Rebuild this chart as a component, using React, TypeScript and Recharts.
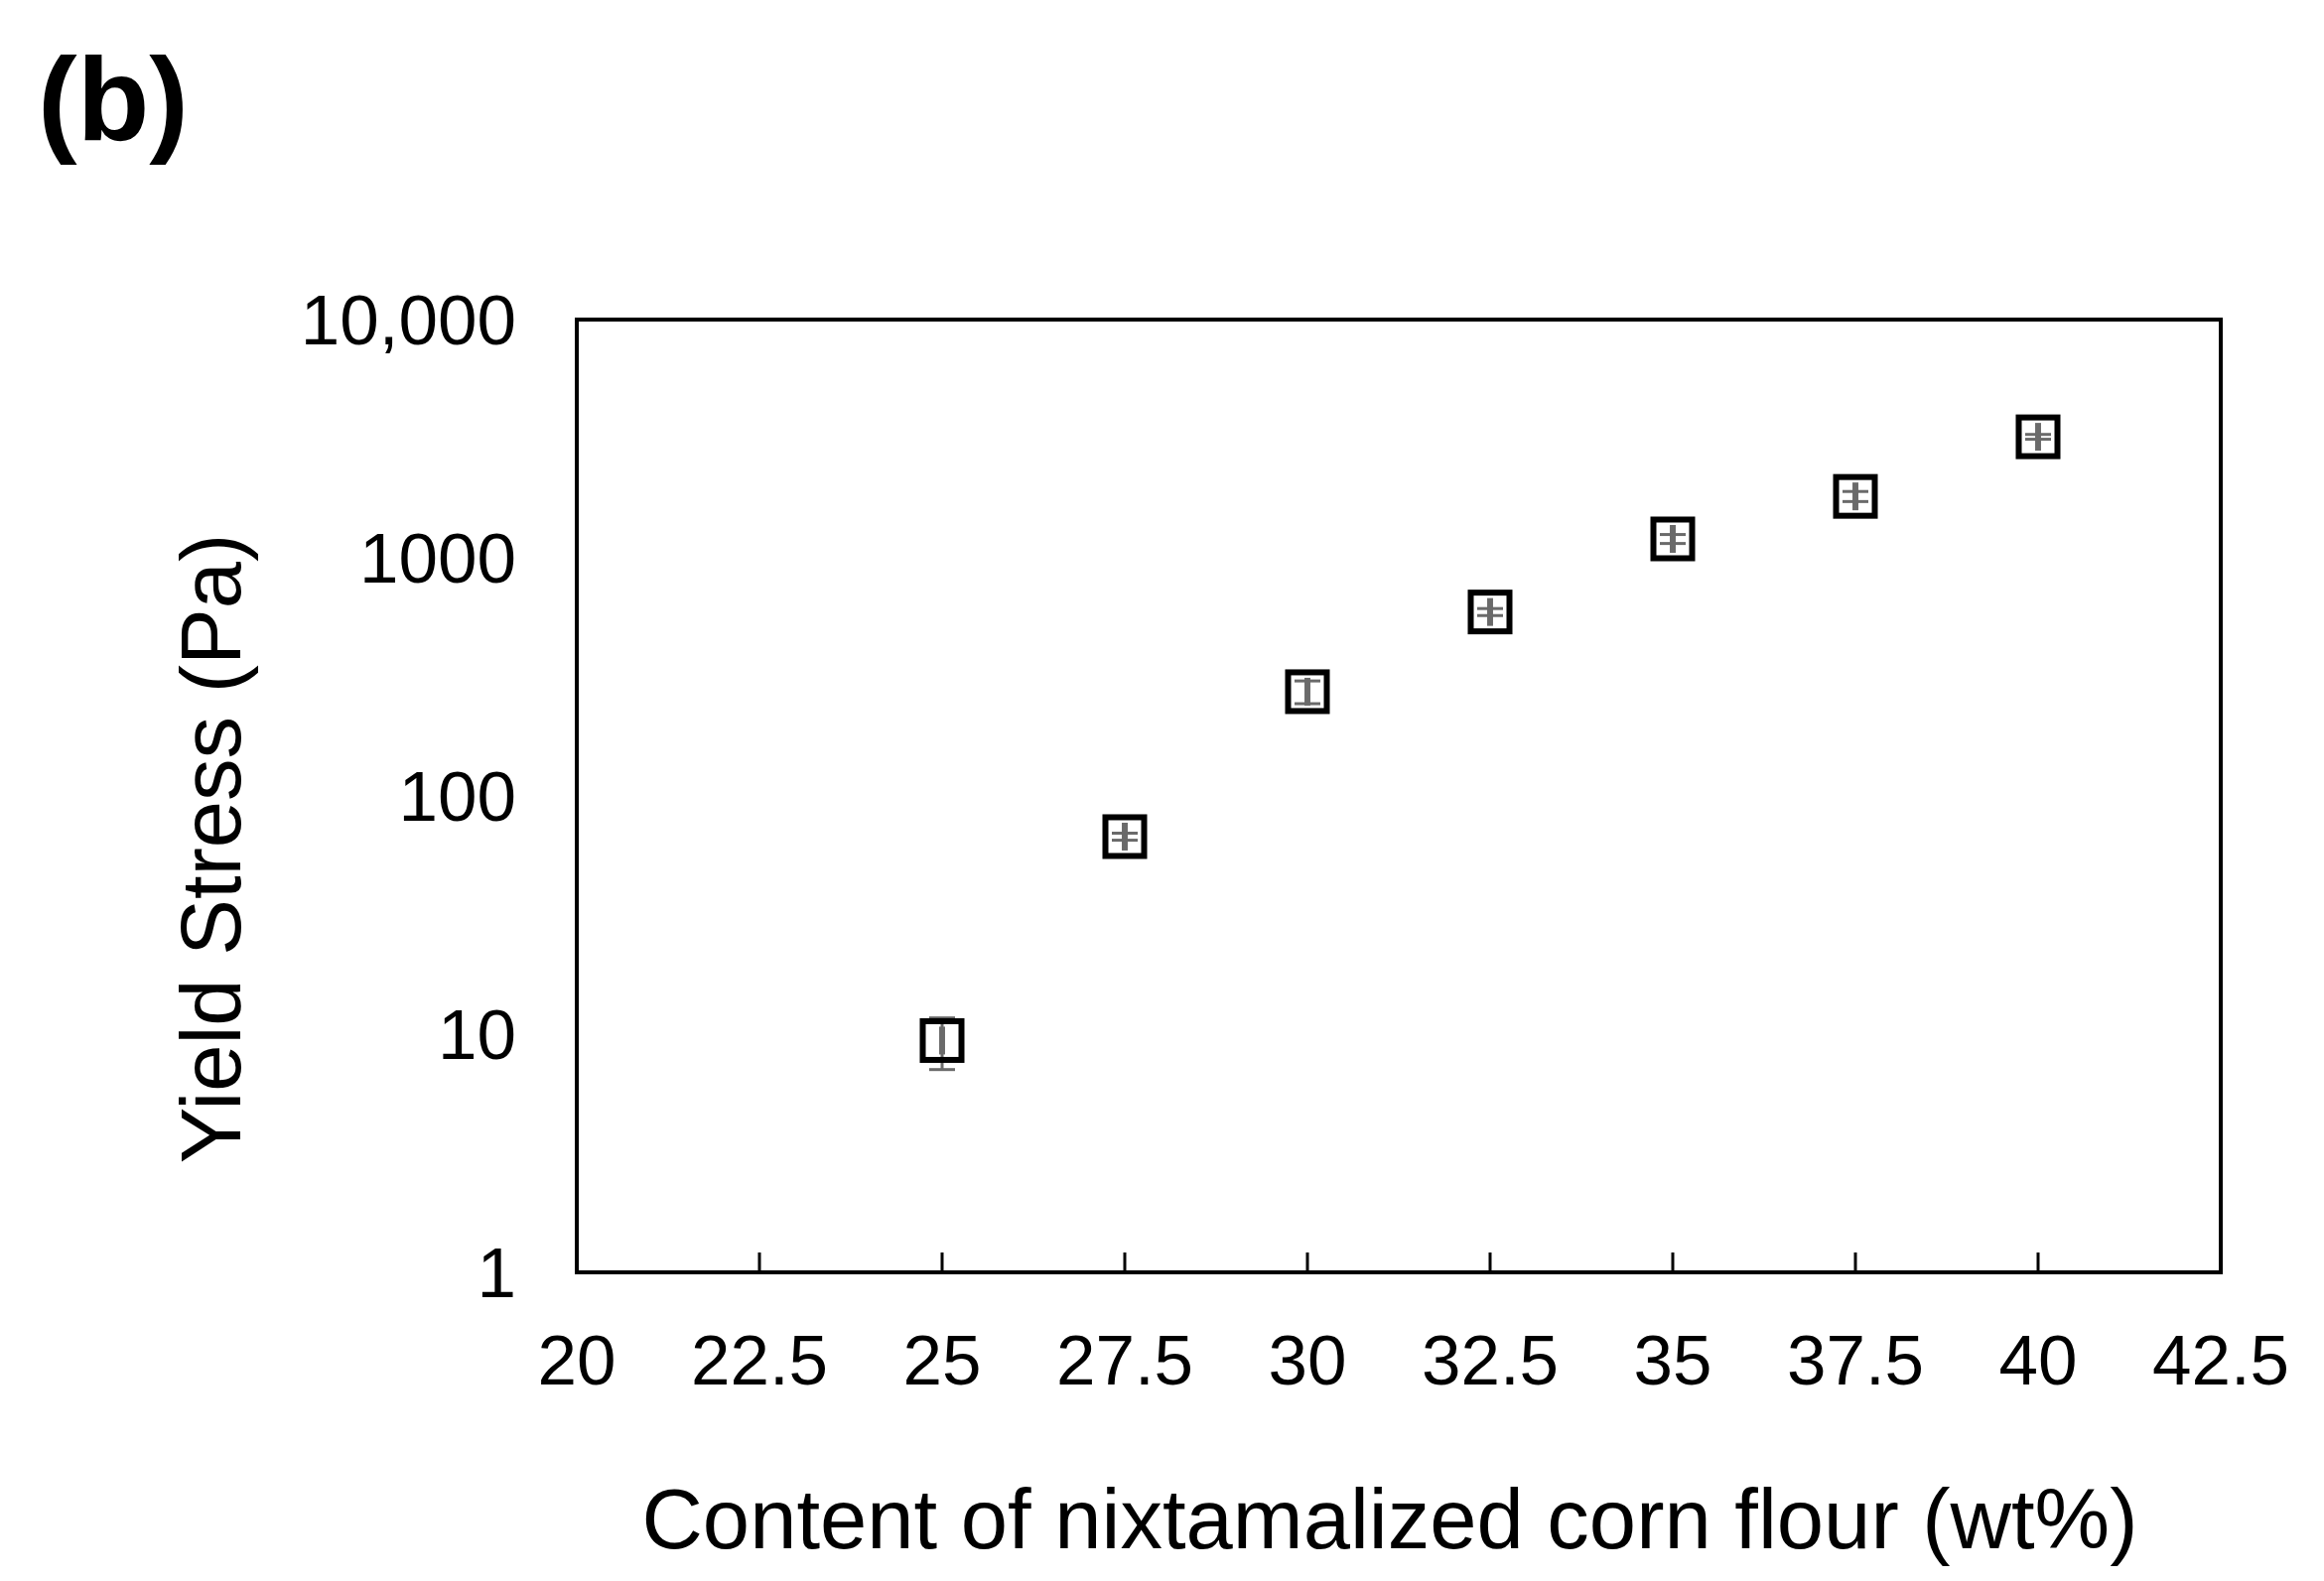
import React from 'react';
import { ScatterChart, Scatter, XAxis, YAxis, ErrorBar, ReferenceArea } from 'recharts';

const contents = [25, 27.5, 30, 32.5, 35, 37.5, 40];
const yieldStress = [9.4, 67.5, 274, 592, 1200, 1810, 3220];
const yieldStressErr = [2.3, 2.3, 30, 20, 52, 88, 75];
const contentErr = [0.02, 0.02, 0.02, 0.02, 0.02, 0.02, 0.02];

const xTicks = [20, 22.5, 25, 27.5, 30, 32.5, 35, 37.5, 40, 42.5];
const xTickLabels = ['20', '22.5', '25', '27.5', '30', '32.5', '35', '37.5', '40', '42.5'];
const yTicks = [1, 10, 100, 1000, 10000];
const yTickLabels = ['1', '10', '100', '1000', '10,000'];

const panelLabel = '(b)';
const xTitle = 'Content of nixtamalized corn flour (wt%)';
const yTitle = 'Yield Stress (Pa)';

const data = contents.map((c, i) => ({
  x: c,
  y: yieldStress[i],
  yErr: yieldStressErr[i],
  xErr: contentErr[i],
}));

const FONT = '"Liberation Sans", Arial, sans-serif';

const XTick = (props: any) => {
  const { x, y, index } = props;
  return (
    <g>
      <line x1={x} x2={x} y1={y} y2={y - 20} stroke="#000" strokeWidth={3} />
      <text x={x} y={y + 113} textAnchor="middle" fontSize={71} fontFamily={FONT} fill="#000">
        {xTickLabels[index]}
      </text>
    </g>
  );
};

const YTick = (props: any) => {
  const { x, y, index } = props;
  return (
    <text x={x - 61} y={y + 25} textAnchor="end" fontSize={71} fontFamily={FONT} fill="#000">
      {yTickLabels[index]}
    </text>
  );
};

const SquareMarker = (props: any) => {
  const { cx, cy } = props;
  if (cx == null || cy == null) return null;
  return <rect x={cx - 19.5} y={cy - 19.5} width={39} height={39} fill="none" stroke="#000" strokeWidth={6} />;
};

export default function App() {
  return (
    <div style={{ position: 'absolute', left: 0, top: 0, width: 2341, height: 1593, background: '#fff' }}>
      <ScatterChart
        width={2341}
        height={1593}
        margin={{ top: 322, right: 104, bottom: 211, left: 481 }}
      >
        <XAxis
          type="number"
          dataKey="x"
          domain={[20, 42.5]}
          ticks={xTicks}
          interval={0}
          allowDataOverflow
          axisLine={false}
          tickLine={false}
          tickSize={0}
          tickMargin={0}
          height={100}
          tick={<XTick />}
          label={{
            content: (p: any) => {
              const vb = p.viewBox || {};
              return (
                <text
                  x={vb.x + vb.width / 2 - 9}
                  y={1560}
                  textAnchor="middle"
                  fontSize={85}
                  fontFamily={FONT}
                  fill="#000"
                >
                  {xTitle}
                </text>
              );
            },
          }}
        />
        <YAxis
          type="number"
          dataKey="y"
          scale="log"
          domain={[1, 10000]}
          ticks={yTicks}
          interval={0}
          allowDataOverflow
          axisLine={false}
          tickLine={false}
          tickSize={0}
          tickMargin={0}
          width={100}
          tick={<YTick />}
          label={{
            content: () => (
              <text
                transform="translate(242,855) rotate(-90)"
                textAnchor="middle"
                fontSize={85}
                fontFamily={FONT}
                fill="#000"
              >
                {yTitle}
              </text>
            ),
          }}
        />
        <ReferenceArea x1={20} x2={42.5} y1={1} y2={10000} fill="none" fillOpacity={0} stroke="#000" strokeWidth={4} />
        <Scatter data={data} shape={<SquareMarker />} isAnimationActive={false}>
          <ErrorBar dataKey="yErr" direction="y" width={13} stroke="#6a6a6a" strokeWidth={3} isAnimationActive={false} />
          <ErrorBar dataKey="xErr" direction="x" width={14} stroke="#6a6a6a" strokeWidth={3} isAnimationActive={false} />
        </Scatter>
      </ScatterChart>
      <svg style={{ position: 'absolute', left: 0, top: 0 }} width={400} height={200}>
        <text x={38} y={141} fontSize={119} fontWeight="bold" fontFamily={FONT} fill="#000">
          {panelLabel}
        </text>
      </svg>
    </div>
  );
}
